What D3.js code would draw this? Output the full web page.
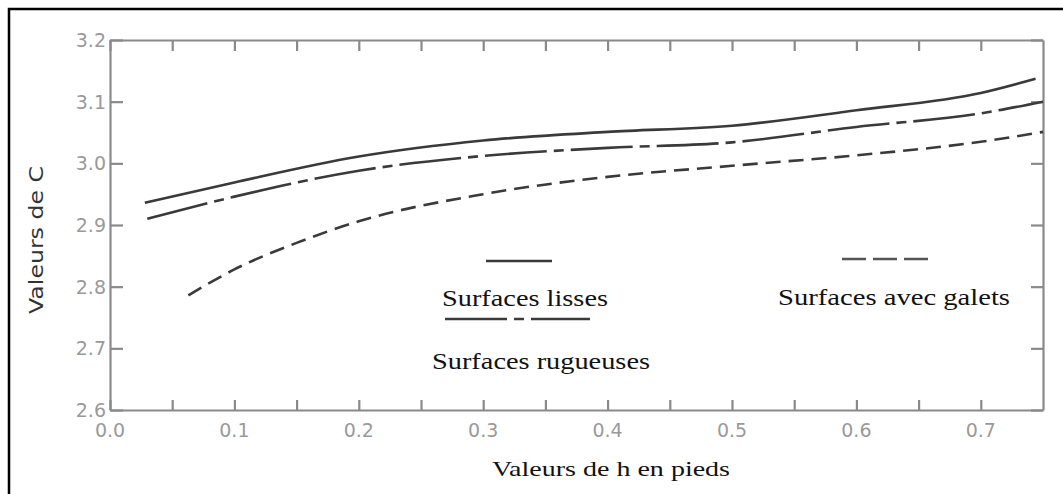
<!DOCTYPE html>
<html>
<head>
<meta charset="utf-8">
<script src="https://cdn.jsdelivr.net/npm/d3@7"></script>
<style>
  body { margin: 0; background: #fff; }
  svg { display: block; }
</style>
</head>
<body>
<div id="chart"></div>
<script>
// x values (h en pieds) and C values for each curve
var lissesX = [0.028, 0.1, 0.2, 0.3, 0.4, 0.5, 0.6, 0.7, 0.744];
var lissesC = [2.936, 2.969, 3.011, 3.037, 3.051, 3.061, 3.086, 3.114, 3.137];

var rugueusesX = [0.03, 0.1, 0.2, 0.3, 0.4, 0.5, 0.6, 0.7, 0.75];
var rugueusesC = [2.910, 2.946, 2.988, 3.012, 3.025, 3.034, 3.059, 3.081, 3.100];

var galetsX = [0.063, 0.1, 0.15, 0.2, 0.3, 0.4, 0.5, 0.6, 0.7, 0.75];
var galetsC = [2.786, 2.828, 2.871, 2.906, 2.950, 2.978, 2.996, 3.013, 3.035, 3.051];

var xTicks = [0, 0.1, 0.2, 0.3, 0.4, 0.5, 0.6, 0.7];
var xMinorTicks = [0, 0.05, 0.1, 0.15, 0.2, 0.25, 0.3, 0.35, 0.4, 0.45, 0.5, 0.55, 0.6, 0.65, 0.7];
var yTicks = [2.6, 2.7, 2.8, 2.9, 3.0, 3.1, 3.2];

var width = 1063, height = 494;
var svg = d3.select("#chart").append("svg")
    .attr("width", width)
    .attr("height", height);

// outer frame (only top and left show)
svg.append("path")
    .attr("d", "M9," + (height + 5) + "V9H" + (width + 5))
    .attr("fill", "none")
    .attr("stroke", "#000")
    .attr("stroke-width", 2.5);

var x = d3.scaleLinear().domain([0, 0.75]).range([110, 1043]);
var y = d3.scaleLinear().domain([2.6, 3.2]).range([410, 40]);

var axisColor = "#8a8a8a";

// frame axes, ticks all pointing inward
var axisBottomG = svg.append("g")
    .attr("transform", "translate(0," + y(2.6) + ")")
    .call(d3.axisBottom(x).tickValues(xMinorTicks).tickSizeInner(-10).tickSizeOuter(0).tickFormat(""));
var axisTopG = svg.append("g")
    .attr("transform", "translate(0," + y(3.2) + ")")
    .call(d3.axisTop(x).tickValues(xMinorTicks).tickSizeInner(-11).tickSizeOuter(0).tickFormat(""));
var axisLeftG = svg.append("g")
    .attr("transform", "translate(" + x(0) + ",0)")
    .call(d3.axisLeft(y).tickValues(yTicks).tickSizeInner(-13).tickSizeOuter(0).tickFormat(""));
var axisRightG = svg.append("g")
    .attr("transform", "translate(" + x(0.75) + ",0)")
    .call(d3.axisRight(y).tickValues(yTicks).tickSizeInner(-12).tickSizeOuter(0).tickFormat(""));

[axisBottomG, axisTopG, axisLeftG, axisRightG].forEach(function (g) {
    g.selectAll("path, line").attr("stroke", axisColor).attr("stroke-width", 2.2);
});

// tick labels
svg.append("g").selectAll("text")
    .data(xTicks)
    .enter()
    .append("text")
    .attr("x", function (d) { return x(d); })
    .attr("y", 437)
    .attr("text-anchor", "middle")
    .attr("font-family", "DejaVu Sans, sans-serif")
    .attr("font-size", 19)
    .attr("fill", "#9a9a9a")
    .text(function (d) { return d3.format(".1f")(d); });

svg.append("g").selectAll("text")
    .data(yTicks)
    .enter()
    .append("text")
    .attr("x", 106)
    .attr("y", function (d) { return y(d) + 7; })
    .attr("text-anchor", "end")
    .attr("font-family", "DejaVu Sans, sans-serif")
    .attr("font-size", 19)
    .attr("fill", "#9a9a9a")
    .text(function (d) { return d3.format(".1f")(d); });

// curves
var line = d3.line()
    .x(function (d) { return x(d[0]); })
    .y(function (d) { return y(d[1]); })
    .curve(d3.curveMonotoneX);

var curves = [
    {xs: lissesX, cs: lissesC, dash: null},
    {xs: rugueusesX, cs: rugueusesC, dash: "62,7,10,7"},
    {xs: galetsX, cs: galetsC, dash: "15,8"}
];

curves.forEach(function (c) {
    svg.append("path")
        .datum(d3.zip(c.xs, c.cs))
        .attr("d", line)
        .attr("fill", "none")
        .attr("stroke", "#3a3a3a")
        .attr("stroke-width", 2.6)
        .attr("stroke-dasharray", c.dash);
});

// legend samples
svg.append("line").attr("x1", 486).attr("x2", 552).attr("y1", 261).attr("y2", 261)
    .attr("stroke", "#3a3a3a").attr("stroke-width", 2.6);
svg.append("line").attr("x1", 445).attr("x2", 590).attr("y1", 319).attr("y2", 319)
    .attr("stroke", "#3a3a3a").attr("stroke-width", 2.6).attr("stroke-dasharray", "62,7,10,7");
svg.append("line").attr("x1", 842).attr("x2", 928).attr("y1", 259).attr("y2", 259)
    .attr("stroke", "#555").attr("stroke-width", 2.4).attr("stroke-dasharray", "24,7");

// legend and axis texts
function serifText(txt, x0, y0, len, size) {
    svg.append("text")
        .attr("x", x0)
        .attr("y", y0)
        .attr("font-family", "Liberation Serif, Times New Roman, serif")
        .attr("font-size", size)
        .attr("fill", "#111")
        .attr("textLength", len)
        .attr("lengthAdjust", "spacingAndGlyphs")
        .text(txt);
}
serifText("Surfaces lisses", 442, 306, 166, 23);
serifText("Surfaces rugueuses", 432, 369, 218, 23);
serifText("Surfaces avec galets", 778, 305, 232, 23);
serifText("Valeurs de h en pieds", 492, 476, 238, 21);

svg.append("text")
    .attr("transform", "translate(43,240) rotate(-90)")
    .attr("text-anchor", "middle")
    .attr("font-family", "DejaVu Sans, sans-serif")
    .attr("font-size", 19)
    .attr("fill", "#333")
    .attr("textLength", 148)
    .attr("lengthAdjust", "spacingAndGlyphs")
    .text("Valeurs de C");
</script>
</body>
</html>
